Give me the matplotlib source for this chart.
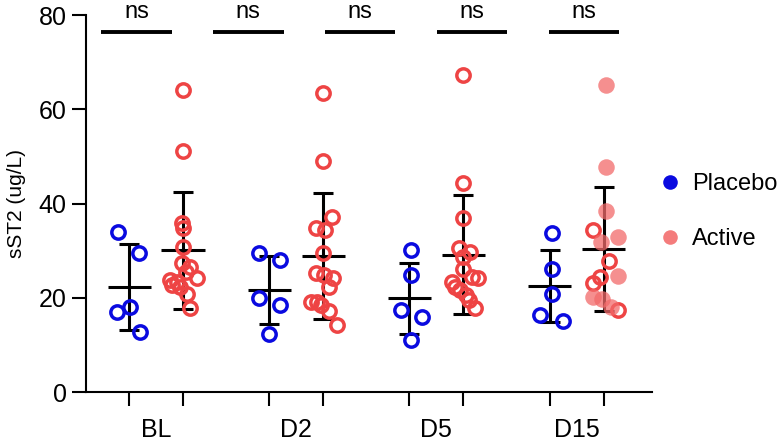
import matplotlib
matplotlib.use("Agg")
import matplotlib.pyplot as plt
from matplotlib.lines import Line2D
import numpy as np

plt.rcParams["font.family"] = ["Liberation Sans", "DejaVu Sans"]

days = ["BL", "D2", "D5", "D15"]

# sST2 (ug/L) per subject
bl_placebo = [34.0, 29.6, 17.0, 18.1, 12.7]
d2_placebo = [29.6, 28.0, 19.9, 18.5, 12.3]
d5_placebo = [30.1, 24.8, 17.5, 16.0, 11.0]
d15_placebo = [33.7, 26.0, 20.9, 16.3, 15.1]

bl_active = [64.1, 51.1, 35.8, 34.7, 30.8, 27.4, 26.5, 25.5, 24.1, 23.8,
             23.4, 22.7, 22.3, 20.9, 17.8]
d2_active = [63.4, 49.0, 37.2, 34.8, 34.3, 29.5, 25.3, 24.9, 24.2, 22.2,
             19.2, 19.0, 18.5, 17.2, 14.2]
d5_active = [67.3, 44.4, 37.0, 30.5, 29.8, 28.7, 26.2, 24.5, 24.1, 23.4,
             22.3, 21.6, 20.6, 19.5, 17.8]
# D15 active: some points drawn filled, some open
d15_active_filled = [65.1, 47.7, 38.5, 32.8, 31.9, 24.6, 20.2, 19.7, 18.0]
d15_active_open = [34.4, 27.9, 24.5, 23.2, 17.4]

# horizontal scatter of the points (jitter)
bl_placebo_dx = [-0.20, 0.19, -0.22, 0.02, 0.20]
d2_placebo_dx = [-0.19, 0.20, -0.20, 0.20, 0.0]
d5_placebo_dx = [0.03, 0.03, -0.15, 0.24, 0.02]
d15_placebo_dx = [0.05, 0.05, 0.05, -0.17, 0.25]
bl_active_dx = [0.0, 0.0, -0.02, 0.0, 0.0, -0.02, 0.12, 0.06, 0.25, -0.24,
                -0.12, -0.21, -0.06, 0.07, 0.13]
d2_active_dx = [0.0, 0.0, 0.17, -0.14, 0.04, 0.0, -0.13, 0.02, 0.19, 0.11,
                -0.22, -0.11, -0.04, 0.11, 0.26]
d5_active_dx = [0.0, 0.0, 0.0, -0.09, 0.13, 0.0, 0.0, 0.16, 0.28, -0.21,
                -0.15, -0.06, 0.04, 0.10, 0.22]
d15_active_filled_dx = [0.04, 0.04, 0.04, 0.26, -0.04, 0.26, -0.20, -0.02, 0.13]
d15_active_open_dx = [-0.19, 0.10, -0.06, -0.19, 0.26]

sig_labels = ["ns", "ns", "ns", "ns", "ns"]

blue = "#0a0ae0"
red = "#ee4444"
salmon = "#f26a6a"

placebo = [bl_placebo, d2_placebo, d5_placebo, d15_placebo]
placebo_dx = [bl_placebo_dx, d2_placebo_dx, d5_placebo_dx, d15_placebo_dx]
active_open = [bl_active, d2_active, d5_active, d15_active_open]
active_open_dx = [bl_active_dx, d2_active_dx, d5_active_dx, d15_active_open_dx]

fig = plt.figure(figsize=(7.77, 4.43), dpi=100)
ax = fig.add_axes([0.1107, 0.1151, 0.7285, 0.851])

gap = 2.6
xp = np.arange(len(days)) * gap
xa = xp + 1

ms = 9.6
mew = 2.5
for i in range(len(days)):
    pv = np.array(placebo[i])
    ax.plot(xp[i] + np.array(placebo_dx[i]), pv, "o", ms=ms, mfc="none",
            mec=blue, mew=mew, zorder=3)
    ax.plot(xa[i] + np.array(active_open_dx[i]), active_open[i], "o", ms=ms,
            mfc="none", mec=red, mew=mew, zorder=3)
ax.plot(xa[3] + np.array(d15_active_filled_dx), d15_active_filled, "o",
        ms=ms + 2.3, mfc=salmon, mec="none", alpha=0.75, zorder=3)

# mean +/- SD
all_active = [bl_active, d2_active, d5_active,
              d15_active_filled + d15_active_open]
for xs, groups in ((xp, placebo), (xa, all_active)):
    for x, vals in zip(xs, groups):
        v = np.array(vals)
        m, sd = v.mean(), v.std(ddof=1)
        ax.errorbar(x, m, yerr=sd, fmt="none", ecolor="black",
                    elinewidth=2.2, capsize=7, capthick=2.2, zorder=2)
        ax.hlines(m, x - 0.4, x + 0.4, color="black", lw=2.2, zorder=2)

# significance bars
starts = -0.52 + 2.075 * np.arange(len(sig_labels))
for s, lab in zip(starts, sig_labels):
    ax.plot([s, s + 1.31], [76.3, 76.3], color="black", lw=2.8,
            solid_capstyle="butt", clip_on=False)
    ax.text(s + 0.655, 78.3, lab, ha="center", va="bottom", fontsize=17,
            clip_on=False)

ax.set_xlim(-0.8, 9.7)
ax.set_ylim(0, 80)
ax.set_yticks([0, 20, 40, 60, 80])
ax.set_xticks(np.sort(np.concatenate([xp, xa])))
ax.set_xticklabels([])
ax.set_xticks((xp + xa) / 2, days, minor=True)
ax.tick_params(axis="x", which="minor", length=0, pad=19, labelsize=18)
ax.tick_params(axis="both", which="major", length=10, width=1.5,
               labelsize=18, pad=4)
ax.set_ylabel("sST2 (ug/L)", fontsize=15, labelpad=9)
for side in ("top", "right"):
    ax.spines[side].set_visible(False)
for side in ("left", "bottom"):
    ax.spines[side].set_linewidth(1.5)

handles = [
    Line2D([], [], marker="o", ls="none", ms=10.5, mfc=blue, mec="none"),
    Line2D([], [], marker="o", ls="none", ms=10.5, mfc="#f47c7c", mec="none"),
]
ax.legend(handles, ["Placebo", "Active"], loc="center left",
          bbox_to_anchor=(1.01, 0.479), frameon=False, fontsize=17,
          handlelength=1, handletextpad=0.45, labelspacing=1.4,
          borderaxespad=0, borderpad=0)

fig.savefig("out.png", dpi=100)
